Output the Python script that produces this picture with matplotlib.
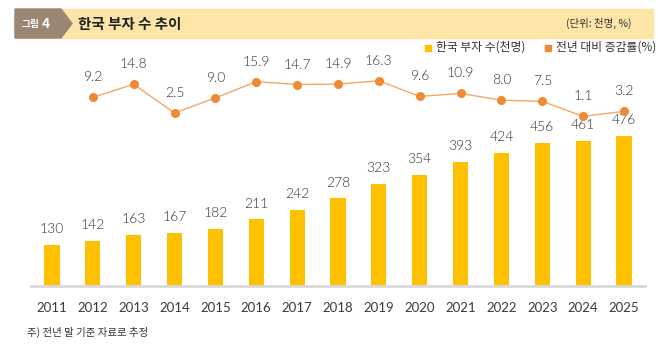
import numpy as np
import matplotlib
matplotlib.use("Agg")
import matplotlib.pyplot as plt
from matplotlib.patches import Rectangle, Polygon

plt.rcParams['font.family'] = ['Noto Sans CJK KR', 'DejaVu Sans']

## data
years = ['2011', '2012', '2013', '2014', '2015', '2016', '2017', '2018',
         '2019', '2020', '2021', '2022', '2023', '2024', '2025']
rich_count = [130, 142, 163, 167, 182, 211, 242, 278, 323, 354, 393, 424,
              456, 461, 476]
# growth rate starts from 2012 (needs a previous year)
growth_years = years[1:]
growth_rate = [9.2, 14.8, 2.5, 9.0, 15.9, 14.7, 14.9, 16.3, 9.6, 10.9, 8.0,
               7.5, 1.1, 3.2]

## colours
bar_c = '#FFC000'
line_c = '#F2A867'
dot_c = '#EE8A33'
text_c = '#333333'
band_c = '#FDE5A8'
tag_c = '#9B8573'
num_font = ['Lato', 'DejaVu Sans']

W, H = 658, 345


def fx(x):
    return x / W


def fy(y):
    return 1 - y / H


fig = plt.figure(figsize=(W / 100, H / 100), dpi=100)

# header band + tag
fig.patches.append(Rectangle((fx(15), fy(38)), fx(653) - fx(15),
                             fy(9) - fy(38), transform=fig.transFigure,
                             color=band_c, zorder=0))
fig.patches.append(Polygon([(fx(15), fy(9)), (fx(61), fy(9)),
                            (fx(72), fy(23.5)), (fx(61), fy(38)),
                            (fx(15), fy(38))], closed=True,
                           transform=fig.transFigure, color=tag_c, zorder=1))
fig.text(fx(22), fy(23.5), '그림', color='white', fontsize=7,
         va='center', ha='left', fontweight='bold')
fig.text(fx(42), fy(23.5), '4', color='white', fontsize=10,
         va='center', ha='left', fontweight='bold')
fig.text(fx(78), fy(23.5), '한국 부자 수 추이', color='#222222', fontsize=10.5,
         va='center', ha='left', fontweight='bold')
fig.text(fx(632), fy(23.5), '(단위: 천명, %)', color=text_c, fontsize=7.5,
         va='center', ha='right')

# legend
fig.patches.append(Rectangle((fx(425), fy(51)), 6 / W, 6 / H,
                             transform=fig.transFigure, color=bar_c))
fig.text(fx(436), fy(47.5), '한국 부자 수(천명)', color=text_c, fontsize=8.5,
         va='center', ha='left')
fig.patches.append(Rectangle((fx(545), fy(51)), 6 / W, 6 / H,
                             transform=fig.transFigure, color=dot_c))
fig.text(fx(556), fy(47.5), '전년 대비 증감률(%)', color=text_c, fontsize=8.5,
         va='center', ha='left')

# footnote
fig.text(fx(27), fy(332), '주) 전년 말 기준 자료로 추정', color=text_c,
         fontsize=7.5, va='center', ha='left')

## main axes
ax_l, ax_r, ax_t, ax_b = 31, 645, 60, 285.7
ax = fig.add_axes([fx(ax_l), fy(ax_b), (ax_r - ax_l) / W, (ax_b - ax_t) / H])
x = np.arange(len(years))
ax.bar(x, rich_count, width=0.37, color=bar_c, zorder=2)
ax.set_xlim(-0.515, len(years) - 0.485)
ax.set_ylim(0, (ax_b - ax_t) / 0.314)
ax.set_xticks(x)
ax.set_xticklabels(years, fontsize=9.5, color='#3a3a3a', family=num_font)
ax.tick_params(axis='x', length=0, pad=12)
ax.set_yticks([])
for s in ['left', 'right', 'top']:
    ax.spines[s].set_visible(False)
ax.spines['bottom'].set_color('#D9D9D9')
ax.spines['bottom'].set_linewidth(2)
for xi, v in zip(x, rich_count):
    ax.annotate(str(v), (xi, v), xytext=(0, 8.5), textcoords='offset points',
                ha='center', va='baseline', fontsize=10, color=text_c,
                family=num_font, fontweight=300)

# growth rate on a twin axis
ax2 = ax.twinx()
gx = np.arange(1, len(years))
ax2.plot(gx, growth_rate, color=line_c, lw=1.0, zorder=3)
ax2.plot(gx, growth_rate, 'o', color=dot_c, ms=5.5, zorder=4)
ax2.set_ylim((118.9 - ax_b) / 2.34, (118.9 - ax_t) / 2.34)
ax2.set_yticks([])
for s in ['left', 'right', 'top', 'bottom']:
    ax2.spines[s].set_visible(False)
for xi, v in zip(gx, growth_rate):
    ax2.annotate(f'{v:.1f}', (xi, v), xytext=(0, 11.5),
                 textcoords='offset points', ha='center', va='baseline',
                 fontsize=10, color=text_c, family=num_font, fontweight=300)

fig.savefig('out.png', dpi=100)
